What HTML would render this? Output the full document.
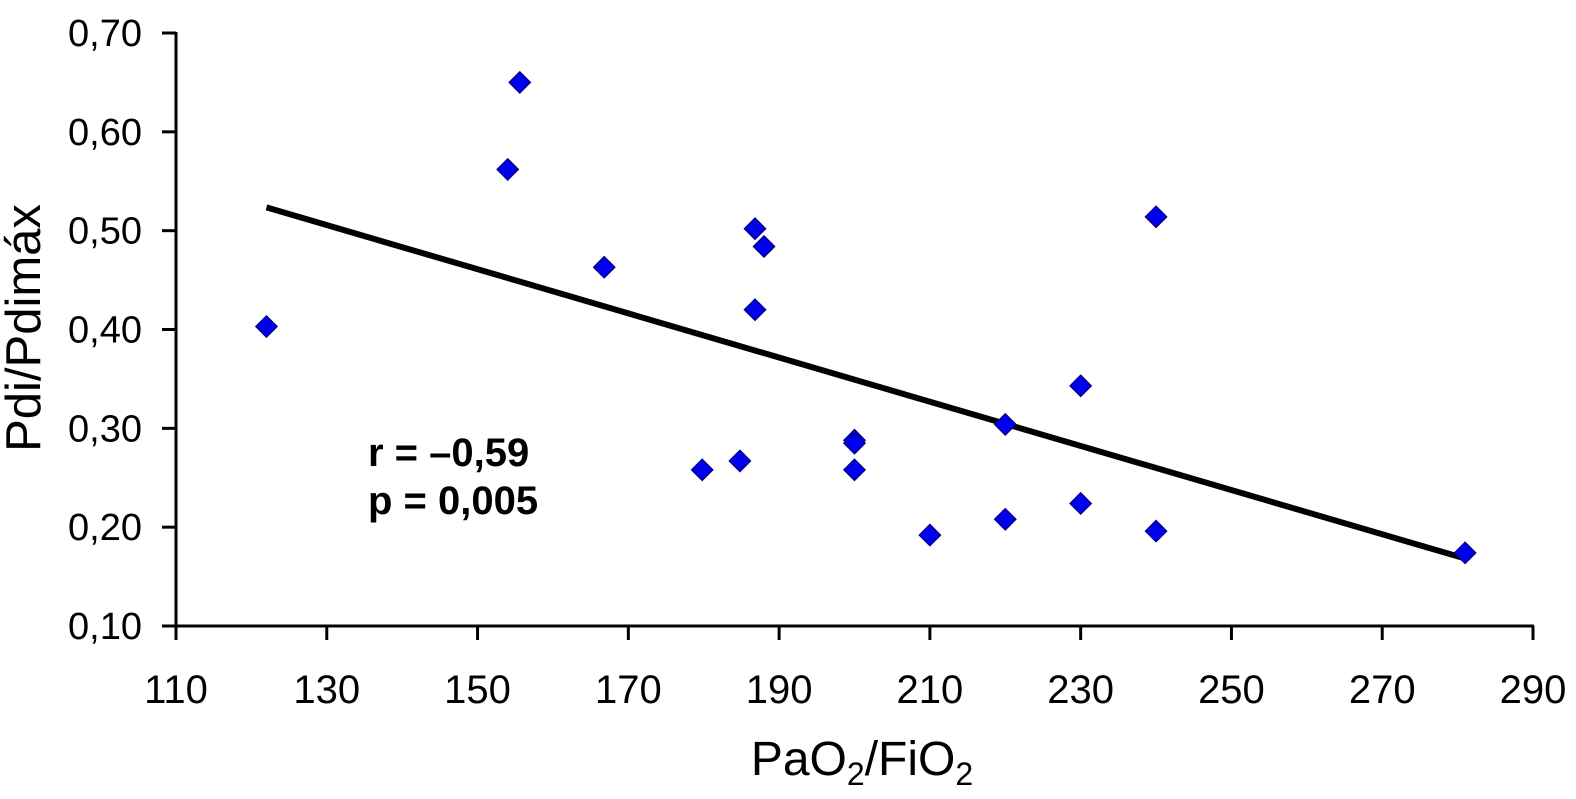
<!DOCTYPE html>
<html><head><meta charset="utf-8">
<style>
html,body{margin:0;padding:0;background:#fff;}
svg{display:block;font-family:"Liberation Sans",Arial,sans-serif;}
</style></head>
<body>
<svg id="chart" width="1576" height="799" viewBox="0 0 1576 799" xmlns="http://www.w3.org/2000/svg">
<g id="axes"></g>
<g id="marks"></g>
<text x="862" y="775" font-size="48" text-anchor="middle" fill="#000">PaO<tspan font-size="32" dy="10">2</tspan><tspan dy="-10">/FiO</tspan><tspan font-size="32" dy="10">2</tspan></text>
<text transform="translate(40,328) rotate(-90)" font-size="49" text-anchor="middle" fill="#000">Pdi/Pdimáx</text>
<text x="368" y="466" font-size="40" font-weight="bold" fill="#000">r = –0,59</text>
<text x="368" y="514" font-size="40" font-weight="bold" fill="#000">p = 0,005</text>
</svg>
<script>
const xValues=[122,155.6,154,166.8,186.8,188,186.8,179.8,184.8,200,200,200,210,220,220,230,230,240,240,281];
const yValues=[0.403,0.650,0.562,0.463,0.502,0.484,0.420,0.258,0.267,0.288,0.285,0.258,0.192,0.304,0.208,0.343,0.224,0.514,0.196,0.174];
const xTicks=[110,130,150,170,190,210,230,250,270,290];
const yTicks=[0.10,0.20,0.30,0.40,0.50,0.60,0.70];
const trendX=[122,281];

const NS="http://www.w3.org/2000/svg";
const X0=176,X1=1533,Y0=626,Y1=33;
function sx(v){return X0+(v-110)/(290-110)*(X1-X0);}
function sy(v){return Y0-(v-0.10)/(0.70-0.10)*(Y0-Y1);}
function mk(tag,attrs,parent){const e=document.createElementNS(NS,tag);for(const k in attrs)e.setAttribute(k,attrs[k]);parent.appendChild(e);return e;}
const axes=document.getElementById('axes'),marks=document.getElementById('marks');

let l=mk('line',{x1:X0,y1:Y1-1,x2:X0,y2:Y0,stroke:'#000','stroke-width':3},axes);


l=mk('line',{x1:X0,y1:Y0,x2:X1+1,y2:Y0,stroke:'#000','stroke-width':3},axes);



yTicks.forEach(t=>{
  const y=sy(t);
  const tk=mk('line',{x1:X0-14,y1:y,x2:X0,y2:y,stroke:'#000','stroke-width':3},axes);
  
  
  const tx=mk('text',{x:142,y:y+13,'font-size':38,'text-anchor':'end',fill:'#000'},axes);
  tx.textContent=t.toFixed(2).replace('.',',');
  
  
});
xTicks.forEach(t=>{
  const x=sx(t);
  const tk=mk('line',{x1:x,y1:Y0,x2:x,y2:Y0+14,stroke:'#000','stroke-width':3},axes);
  
  
  const tx=mk('text',{x:x,y:703,'font-size':40,'text-anchor':'middle',fill:'#000'},axes);
  tx.textContent=String(t);
  
  
});

const n=xValues.length;
const mx=xValues.reduce((a,b)=>a+b,0)/n,my=yValues.reduce((a,b)=>a+b,0)/n;
let sxy=0,sxx=0;for(let i=0;i<n;i++){sxy+=(xValues[i]-mx)*(yValues[i]-my);sxx+=(xValues[i]-mx)**2;}
const slope=sxy/sxx,icpt=my-slope*mx;
const tl=mk('line',{x1:sx(trendX[0]),y1:sy(icpt+slope*trendX[0]),x2:sx(trendX[1]),y2:sy(icpt+slope*trendX[1]),stroke:'#000','stroke-width':6},marks);



for(let i=0;i<n;i++){
  const x=sx(xValues[i]),y=sy(yValues[i]),r=10.5;
  const p=mk('polygon',{points:`${x},${y-r} ${x+r},${y} ${x},${y+r} ${x-r},${y}`,fill:'#0000ee',stroke:'#000090','stroke-width':1.5},marks);
  
  
}
</script>
</body></html>
